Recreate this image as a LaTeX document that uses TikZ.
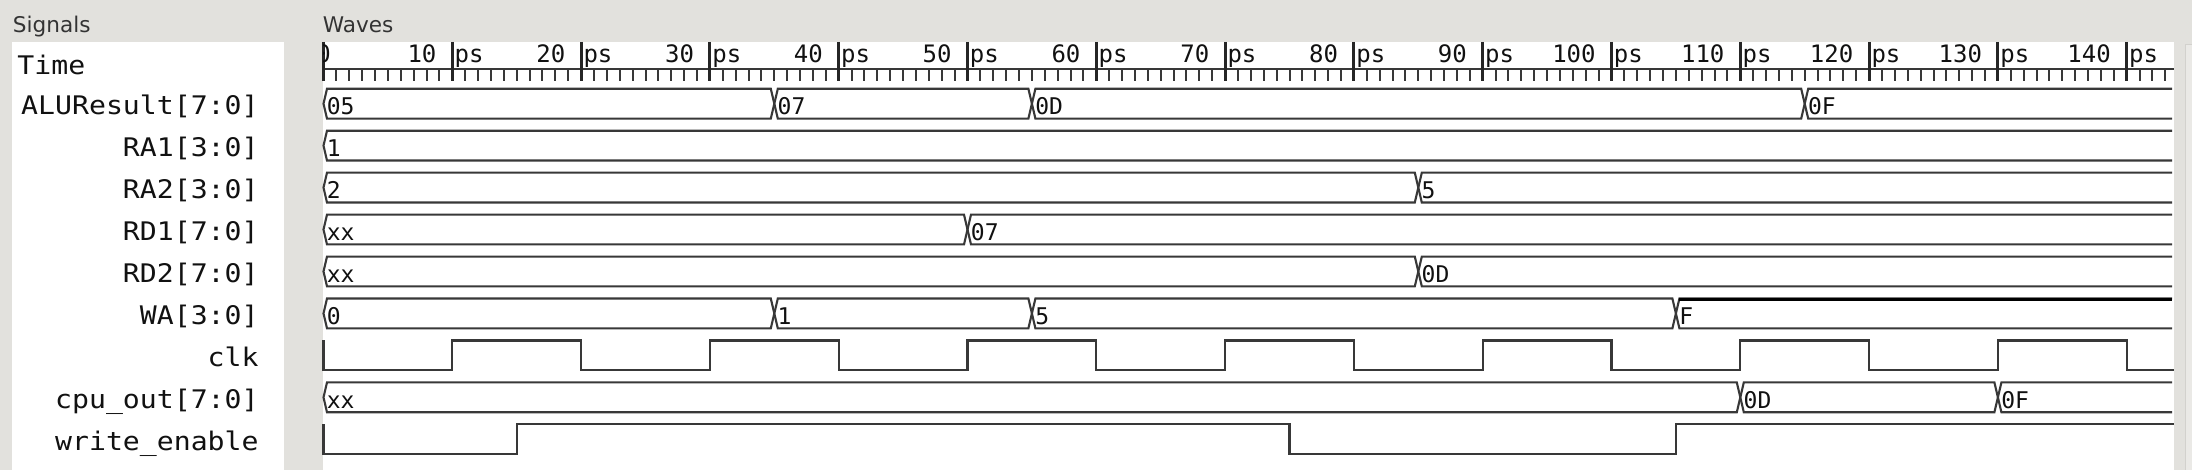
\documentclass[tikz,border=0pt]{standalone}
\usepackage{fontspec}
\setmainfont{DejaVu Sans}
\newfontfamily\namefont[FakeStretch=1.1]{DejaVu Sans Mono}
\newfontfamily\monofont{DejaVu Sans Mono}
\definecolor{bg}{HTML}{E2E1DD}
\definecolor{wavecol}{HTML}{383838}
\definecolor{txt}{HTML}{111111}
\definecolor{sidebar}{HTML}{EAE9E6}
\definecolor{sideline}{HTML}{D2D1CD}
\newcommand{\tx}[1]{(323.5+12.88*(#1))}
\newcommand{\dd}{3.5}
\newcommand{\xe}{2172}
\tikzset{
  wave/.style={draw=wavecol, line width=1.05pt, line join=miter},
  sig/.style={anchor=base east, inner sep=0pt, text=txt, font=\namefont\fontsize{12.8}{14}\selectfont},
  val/.style={anchor=base west, inner sep=0pt, text=txt, font=\monofont\fontsize{11.5}{13}\selectfont},
  ruler/.style={inner sep=0pt, text=txt, font=\monofont\fontsize{12}{14}\selectfont},
  paneltitle/.style={anchor=base west, inner sep=0pt, text=black!80, font=\fontsize{10.8}{13}\selectfont},
}
% bus segment: name, row top, t1, t2, value
\newcommand{\bseg}[5]{%
  \draw[wave] ({\tx{#3}},#2+14.9) -- ({\tx{#3}+\dd},#2) -- ({\tx{#4}-\dd},#2) -- ({\tx{#4}},#2+14.9) -- ({\tx{#4}-\dd},#2+29.8) -- ({\tx{#3}+\dd},#2+29.8) -- cycle;
  \node[val] (#1) at ({\tx{#3}+3},#2+26) {#5};}
% last bus segment running to the edge: name, row top, t, value
\newcommand{\blast}[4]{%
  \draw[wave] (\xe,#2) -- ({\tx{#3}+\dd},#2) -- ({\tx{#3}},#2+14.9) -- ({\tx{#3}+\dd},#2+29.8) -- (\xe,#2+29.8);
  \node[val] (#1) at ({\tx{#3}+3},#2+26) {#4};}
\begin{document}
\begin{tikzpicture}[x=0.5pt,y=-0.5pt]
\useasboundingbox (0,0) rectangle (2192,470);
\fill[bg] (0,0) rectangle (2192,470);
% panels
\fill[white] (12.3,41.7) rectangle (284,470);
\fill[white] (323,41.7) rectangle (2174,470);
\filldraw[fill=sidebar, draw=sideline, line width=0.5pt] (2185.5,45) rectangle (2193,471);
\node[paneltitle] (tsig) at (12.5,33) {Signals};
\node[paneltitle] (twav) at (322.5,33) {Waves};
% signal names
\node[anchor=base west, inner sep=0pt, text=txt, font=\namefont\fontsize{12.8}{14}\selectfont] (ntime) at (17,75) {Time};
\node[sig] (nalu) at (259,114.8) {ALUResult[7:0]};
\node[sig] (nra1) at (259,156.75) {RA1[3:0]};
\node[sig] (nra2) at (259,198.7) {RA2[3:0]};
\node[sig] (nrd1) at (259,240.65) {RD1[7:0]};
\node[sig] (nrd2) at (259,282.6) {RD2[7:0]};
\node[sig] (nwa) at (259,324.55) {WA[3:0]};
\node[sig] (nclk) at (259,366.5) {clk};
\node[sig] (ncpu) at (259,408.45) {cpu\_out[7:0]};
\node[sig] (nwe) at (259,450.4) {write\_enable};
% ruler
\draw[line width=1pt, wavecol] (323,69) -- (2174,69);
\foreach \k in {0,...,143} \draw[line width=1pt, wavecol] ({\tx{\k}},69) -- ({\tx{\k}},81);
\foreach \k in {0,10,...,140} \draw[line width=1.5pt, black!85] ({\tx{\k}},42) -- ({\tx{\k}},81);
\foreach \k in {10,20,...,140} {
  \node[ruler, anchor=base east] (n\k) at ({\tx{\k}-15.5},63) {\k};
  \node[ruler, anchor=base west] (p\k) at ({\tx{\k}+2},63) {ps};
}
\begin{scope}
  \clip (323,41.7) rectangle (2174,470);
  \node[ruler, anchor=base] (n0) at (323.5,63) {0};
\end{scope}
% ALUResult
\bseg{a1}{88.8}{0}{35}{05}
\bseg{a2}{88.8}{35}{55}{07}
\bseg{a3}{88.8}{55}{115}{0D}
\blast{a4}{88.8}{115}{0F}
% RA1
\blast{b1}{130.75}{0}{1}
% RA2
\bseg{c1}{172.7}{0}{85}{2}
\blast{c2}{172.7}{85}{5}
% RD1
\bseg{d1}{214.65}{0}{50}{xx}
\blast{d2}{214.65}{50}{07}
% RD2
\bseg{e1}{256.6}{0}{85}{xx}
\blast{e2}{256.6}{85}{0D}
% WA
\bseg{f1}{298.55}{0}{35}{0}
\bseg{f2}{298.55}{35}{55}{1}
\bseg{f3}{298.55}{55}{105}{5}
\blast{f4}{298.55}{105}{F}
\draw[line width=1.6pt, black] ({\tx{105}+\dd},299.2) -- (\xe,299.2);
% clk
\draw[wave] ({\tx{0}},340.5) -- ({\tx{0}},370.3)
  \foreach \k in {10,30,...,110} { -- ({\tx{\k}},370.3) -- ({\tx{\k}},340.5) -- ({\tx{\k+10}},340.5) -- ({\tx{\k+10}},370.3) }
  -- ({\tx{130}},370.3) -- ({\tx{130}},340.5) -- ({\tx{140}},340.5) -- ({\tx{140}},370.3) -- (2174,370.3);
% cpu_out
\bseg{g1}{382.45}{0}{110}{xx}
\bseg{g2}{382.45}{110}{130}{0D}
\blast{g3}{382.45}{130}{0F}
% write_enable
\draw[wave] ({\tx{0}},424.4) -- ({\tx{0}},454.2) -- ({\tx{15}},454.2) -- ({\tx{15}},424.4) -- ({\tx{75}},424.4) -- ({\tx{75}},454.2) -- ({\tx{105}},454.2) -- ({\tx{105}},424.4) -- (2174,424.4);
\end{tikzpicture}
\end{document}
